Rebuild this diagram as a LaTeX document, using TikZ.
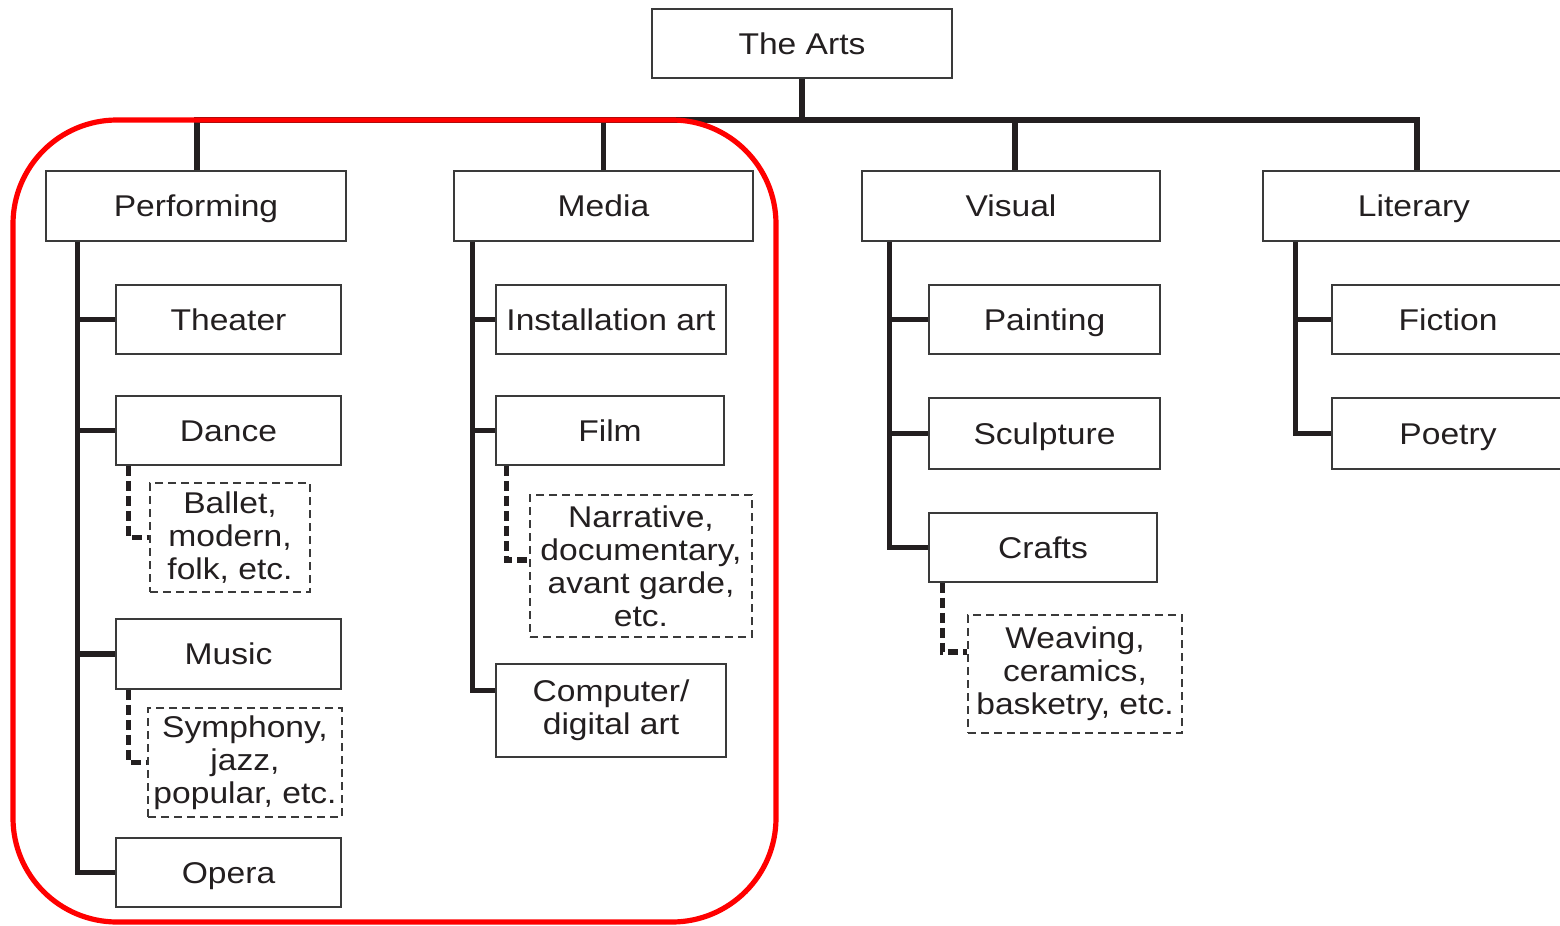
\documentclass[tikz,border=0pt]{standalone}
\usepackage{fontspec}
\setmainfont{Liberation Sans}[FakeStretch=1.12]
\definecolor{ink}{HTML}{231F20}
\definecolor{boxline}{HTML}{3A3A3A}
\begin{document}
\begin{tikzpicture}[x=0.5pt,y=-0.5pt,
  mbox/.style={draw=boxline, line width=0.75pt, fill=white, inner sep=0pt, align=center, text=ink,
    font=\fontsize{15}{16.5}\selectfont},
  box/.style={mbox, text height=12pt, text depth=1.3pt},
  dbox/.style={mbox, dash pattern=on 4pt off 2.5pt},
  conn/.style={draw=ink, line width=2.6pt},
  dconn/.style={draw=ink, line width=2.6pt, dash pattern=on 5pt off 2.5pt},
  frame/.style={draw=red, line width=2.6pt, rounded corners=52pt}]
\path[use as bounding box, clip] (0,0) rectangle (1560,926);

% root
\node[box, minimum width=150pt, minimum height=34.5pt] (arts) at (802,43.5) {The Arts};
% level 1
\node[box, minimum width=150pt, minimum height=35pt] (perf) at (196,206) {Performing};
\node[box, minimum width=149.5pt, minimum height=35pt] (media) at (603.5,206) {Media};
\node[box, minimum width=149pt, minimum height=35pt] (visual) at (1011,206) {Visual};
\node[box, minimum width=151pt, minimum height=35pt] (lit) at (1414,206) {Literary};
% performing
\node[box, minimum width=112.5pt, minimum height=34.5pt] (theater) at (228.5,319.5) {Theater};
\node[box, minimum width=112.5pt, minimum height=34.5pt] (dance) at (228.5,430.5) {Dance};
\node[dbox, minimum width=80pt, minimum height=54.5pt] (ballet) at (230,537.5) {Ballet,\\modern,\\folk, etc.};
\node[box, minimum width=112.5pt, minimum height=35pt] (music) at (228.5,654) {Music};
\node[dbox, minimum width=97pt, minimum height=54.5pt] (symph) at (245,762.5) {Symphony,\\jazz,\\popular, etc.};
\node[box, minimum width=112.5pt, minimum height=34.5pt] (opera) at (228.5,872.5) {Opera};
% media
\node[box, minimum width=115pt, minimum height=34.5pt] (inst) at (611,319.5) {Installation art};
\node[box, minimum width=114pt, minimum height=34.5pt] (film) at (610,430.5) {Film};
\node[dbox, minimum width=111pt, minimum height=71pt] (narr) at (641,566) {Narrative,\\documentary,\\avant garde,\\etc.};
\node[mbox, minimum width=115pt, minimum height=46.5pt] (comp) at (611,710.5) {Computer/\\digital art};
% visual
\node[box, minimum width=115.5pt, minimum height=34.5pt] (paint) at (1044.5,319.5) {Painting};
\node[box, minimum width=115.5pt, minimum height=35.5pt] (sculp) at (1044.5,433.5) {Sculpture};
\node[box, minimum width=114pt, minimum height=34.5pt] (crafts) at (1043,547.5) {Crafts};
\node[dbox, minimum width=107pt, minimum height=59pt] (weave) at (1075,674) {Weaving,\\ceramics,\\basketry, etc.};
% literary
\node[box, minimum width=116pt, minimum height=34.5pt] (fiction) at (1448,319.5) {Fiction};
\node[box, minimum width=116pt, minimum height=35.5pt] (poetry) at (1448,433.5) {Poetry};

% top-level connectors
\coordinate (bus) at (802,120);
\draw[conn] (arts.south) -- (bus);
\draw[conn] ([xshift=0.5pt]perf.north) |- (bus) -| ([xshift=1.5pt]lit.north);
\draw[conn] (media.north) -- (media.north |- bus);
\draw[conn] ([xshift=2pt]visual.north) -- ([xshift=2pt]visual.north |- bus);

% performing
\foreach \c in {theater,dance,music,opera}
  \draw[conn] ([xshift=16pt]perf.south west) |- (\c.west);
\draw[dconn] ([xshift=6.5pt]dance.south west) |- (ballet.west);
\draw[dconn] ([xshift=6.5pt]music.south west) |- (symph.west);
% media
\foreach \c in {inst,film}
  \draw[conn] ([xshift=9.5pt]media.south west) |- (\c.west);
\draw[conn] ([xshift=9.5pt]media.south west) |- ([yshift=10pt]comp.west);
\draw[dconn] ([xshift=5.5pt]film.south west) |- ([yshift=3pt]narr.west);
% visual
\foreach \c in {paint,sculp,crafts}
  \draw[conn] ([xshift=14pt]visual.south west) |- (\c.west);
\draw[dconn] ([xshift=7pt]crafts.south west) |- ([yshift=11pt]weave.west);
% literary
\foreach \c in {fiction,poetry}
  \draw[conn] ([xshift=16.5pt]lit.south west) |- (\c.west);

% highlight frame
\draw[frame] (13,120) rectangle (776,922);
\end{tikzpicture}
\end{document}
